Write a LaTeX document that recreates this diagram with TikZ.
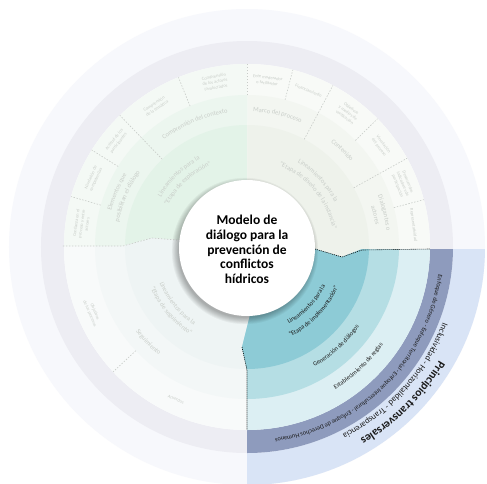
\documentclass[tikz,border=0pt]{standalone}
\usepackage{fontspec}
\setmainfont{Carlito}
\usetikzlibrary{decorations.text}
\definecolor{outerc}{HTML}{F7F8FC}
\definecolor{grayband}{HTML}{EDEDF3}
\definecolor{tlA}{HTML}{E3F3E8}
\definecolor{tlB}{HTML}{ECF6EF}
\definecolor{tlC}{HTML}{F4F9F5}
\definecolor{trA}{HTML}{EEF2EB}
\definecolor{trB}{HTML}{F3F6F1}
\definecolor{trC}{HTML}{F8FAF7}
\definecolor{blA}{HTML}{EEF4F4}
\definecolor{blB}{HTML}{F3F7F7}
\definecolor{blC}{HTML}{F8FAFA}
\definecolor{tealA}{HTML}{8DCBD6}
\definecolor{tealB}{HTML}{B5DEE4}
\definecolor{tealC}{HTML}{DCEFF3}
\definecolor{navyband}{HTML}{8E9BBD}
\definecolor{skyband}{HTML}{D9E4F6}
\definecolor{fadetext}{HTML}{C9CEC9}
\definecolor{fadedash}{HTML}{C8CCC8}
\definecolor{inktext}{HTML}{1A1A1A}
\tikzset{
  fadeline/.style={draw=fadedash, line width=0.6pt, dash pattern=on 1.5pt off 1.5pt},
  blackdots/.style={draw=black, line width=0.6pt, dash pattern=on 1pt off 1pt},
  celltext/.style={text=fadetext, font=\fontsize{4.5}{5.5}\selectfont, align=center, inner sep=0pt},
}
\newcommand\cwlabel[5]{%
  \path[decorate,decoration={text along path,text align=center,text={|#4|#5}}]
    ({#2+#3}:#1) arc[start angle={#2+#3}, end angle={#2-#3}, radius=#1];}
\newcommand\ccwlabel[5]{%
  \path[decorate,decoration={text along path,text align=center,text={|#4|#5}}]
    ({#2-#3}:#1) arc[start angle={#2-#3}, end angle={#2+#3}, radius=#1];}
\newcommand\fadeA{\fontsize{6.5}{7}\selectfont\color{fadetext}}
\newcommand\inkA{\fontsize{6.3}{7}\selectfont\color{inktext}}
\begin{document}
\begin{tikzpicture}[x=1pt,y=1pt]
\useasboundingbox (-247,-236) rectangle (240,247);
\fill[white] (-247,-236) rectangle (240,247);
\begin{scope}
\clip (-247,-236) rectangle (240,247);
% outer rings
\fill[outerc] (0,0) circle[radius=238];
\fill[grayband] (0,0) circle[radius=206];
\fill[white] (0,0) circle[radius=183];
% top-left sector
\begin{scope}
  \clip (0,0) -- (1,250) -- (-250,250) -- (-250,1) -- (-124,1) -- (-95,9) -- (-70,7) -- cycle;
  \fill[tlC] (0,0) circle[radius=183];
  \fill[tlB] (0,0) circle[radius=152];
  \fill[tlA] (0,0) circle[radius=122];
\end{scope}
% top-right sector
\begin{scope}
  \clip (0,0) -- (1,250) -- (250,250) -- (250,-2) -- (115,-2) -- (95,-10) -- (68,-2) -- cycle;
  \fill[trC] (0,0) circle[radius=183];
  \fill[trB] (0,0) circle[radius=152];
  \fill[trA] (0,0) circle[radius=122];
\end{scope}
% bottom-left sector
\begin{scope}
  \clip (0,0) -- (-70,7) -- (-95,9) -- (-124,1) -- (-250,1) -- (-250,-250) -- (0,-250) -- (0,-123) -- (-5,-100) -- (3,-68) -- cycle;
  \fill[blC] (0,0) circle[radius=183];
  \fill[blB] (0,0) circle[radius=152];
  \fill[blA] (0,0) circle[radius=122];
\end{scope}
% transversal bands (annuli only)
\begin{scope}
  \clip (0,-2) -- (250,-2) -- (250,-250) -- (0,-250) -- cycle;
  \fill[skyband, even odd rule] (0,0) circle[radius=238] (0,0) circle[radius=206];
  \fill[navyband, even odd rule] (0,0) circle[radius=206] (0,0) circle[radius=183];
\end{scope}
% bottom-right sector (implementation)
\begin{scope}
  \clip (0,0) -- (3,-68) -- (-5,-100) -- (0,-123) -- (0,-250) -- (250,-250) -- (250,-2) -- (115,-2) -- (95,-10) -- (68,-2) -- cycle;
  \fill[tealC] (0,0) circle[radius=183];
  \fill[tealB] (0,0) circle[radius=152];
  \fill[tealA] (0,0) circle[radius=122];
\end{scope}
% faded dividers
\draw[fadeline] (90:152) -- (90:184);
\draw[fadeline] (112:152) -- (112:183);
\draw[fadeline] (134:122) -- (134:183);
\draw[fadeline] (148:152) -- (148:183);
\draw[fadeline] (164:152) -- (164:183);
\draw[fadeline] (-184,1) -- (-124,1) -- (-95,9) -- (-70,7);
\draw[fadeline] (75.5:152) -- (75.5:183);
\draw[fadeline] (62:122) -- (62:183);
\draw[fadeline] (44.5:152) -- (44.5:183);
\draw[fadeline] (29:122) -- (29:183);
\draw[fadeline] (15:152) -- (15:183);
\draw[fadeline] (223:152) -- (223:183);
% implementation sector borders
\coordinate (z1) at (68,-2);
\coordinate (z2) at (95,-10);
\coordinate (z3) at (115,-3);
\coordinate (z4) at (183,-2);
\coordinate (w1) at (-5,-100);
\coordinate (w2) at (0,-123);
\coordinate (w3) at (0,-183);
\draw[blackdots] (z1) -- (z2) -- (z3) -- (z4);
\draw[blackdots] (w1) -- (w2) -- (w3);
% center circle with shadow
\foreach \i in {1,...,8} {\fill[black, opacity=0.04] (-2,-4) circle[radius={66+\i*0.9}];}
\node[circle, fill=white, minimum size=136pt, inner sep=0pt] (hub) at (0,-1) {};
\node[align=center, inner sep=0pt, font=\fontsize{13.5}{14.8}\selectfont\bfseries] (title) at (0,-2.5)
  {Modelo de\\diálogo para la\\prevención de\\conflictos\\hídricos};
% ---- top-left labels
\cwlabel{99.4}{134}{40}{\fadeA}{Lineamientos para la}
\cwlabel{89.4}{133}{45}{\fadeA}{“Etapa de exploración”}
\cwlabel{135.4}{113}{30}{\fadeA}{Comprensión del contexto}
\cwlabel{140.4}{157}{25}{\fadeA}{Elementos que}
\cwlabel{130.4}{157}{25}{\fadeA}{posibilitan el diálogo}
\node[celltext, rotate=11] (c1) at (101:168) {Comprensión\\de los actores\\involucrados};
\node[celltext, rotate=33] (c2) at (123:168) {Comprensión\\de la temática};
\node[celltext, rotate=51] (c3) at (141:168) {Actitud de los\\participantes};
\node[celltext, rotate=66] (c4) at (156:168) {Nivelación de\\competencias};
\node[celltext, rotate=82] (c5) at (172:167) {Confianza en el\\proceso y entre\\actores};
% ---- top-right labels
\cwlabel{98.4}{43}{40}{\fadeA}{Lineamientos para la}
\cwlabel{87.4}{40}{45}{\fadeA}{“Etapa de diseño de la instancia”}
\cwlabel{135.4}{77}{20}{\fadeA}{Marco del proceso}
\cwlabel{134.4}{45.5}{20}{\fadeA}{Contenido}
\cwlabel{140.4}{14}{20}{\fadeA}{Dialogantes o}
\cwlabel{130.4}{14}{20}{\fadeA}{actores}
\node[celltext, rotate=-7] (c6) at (83:168) {Ente moderador\\o facilitador};
\node[celltext, rotate=-21.5] (c7) at (68.5:168) {Financiamiento};
\node[celltext, rotate=-37] (c8) at (53:168) {Objetivos\\y medios de\\verificación};
\node[celltext, rotate=-53] (c9) at (37:168) {Vinculación\\del proceso};
\node[celltext, rotate=-68] (c10) at (22:168) {Desacuerdos\\indicadores de\\participación};
\node[celltext, rotate=-82.5] (c11) at (7.5:168) {Representatividad};
% ---- bottom-left labels
\ccwlabel{94.6}{219}{40}{\fadeA}{Lineamientos para la}
\ccwlabel{104.6}{220}{40}{\fadeA}{“Etapa de seguimiento”}
\ccwlabel{139.6}{224}{25}{\fadeA}{Seguimiento}
\node[celltext, rotate=-67] (c12) at (203:168) {Objetivos\\de los procesos};
\node[celltext, rotate=-25] (c13) at (245:168) {Acuerdos};
% ---- implementation labels
\ccwlabel{87.6}{-44}{40}{\inkA}{Lineamientos para la}
\ccwlabel{99.6}{-44}{42}{\inkA}{“Etapa de implementación”}
\ccwlabel{137.6}{-48}{30}{\inkA}{Generación de diálogos}
\ccwlabel{167.6}{-47}{30}{\inkA}{Establecimiento de reglas}
% ---- transversal bands
\cwlabel{193.4}{-45}{46}{\inkA}{Enfoque de Género - Enfoque Territorial - Enfoque Intercultural - Enfoque de Derechos Humanos}
\cwlabel{210}{-42}{40}{\fontsize{8.5}{9}\selectfont\color{inktext}}{Inclusividad - Horizontalidad - Transparencia}
\cwlabel{223}{-45}{40}{\fontsize{11.5}{12}\selectfont\bfseries\color{inktext}}{Principios transversales}
\end{scope}
\end{tikzpicture}
\end{document}
